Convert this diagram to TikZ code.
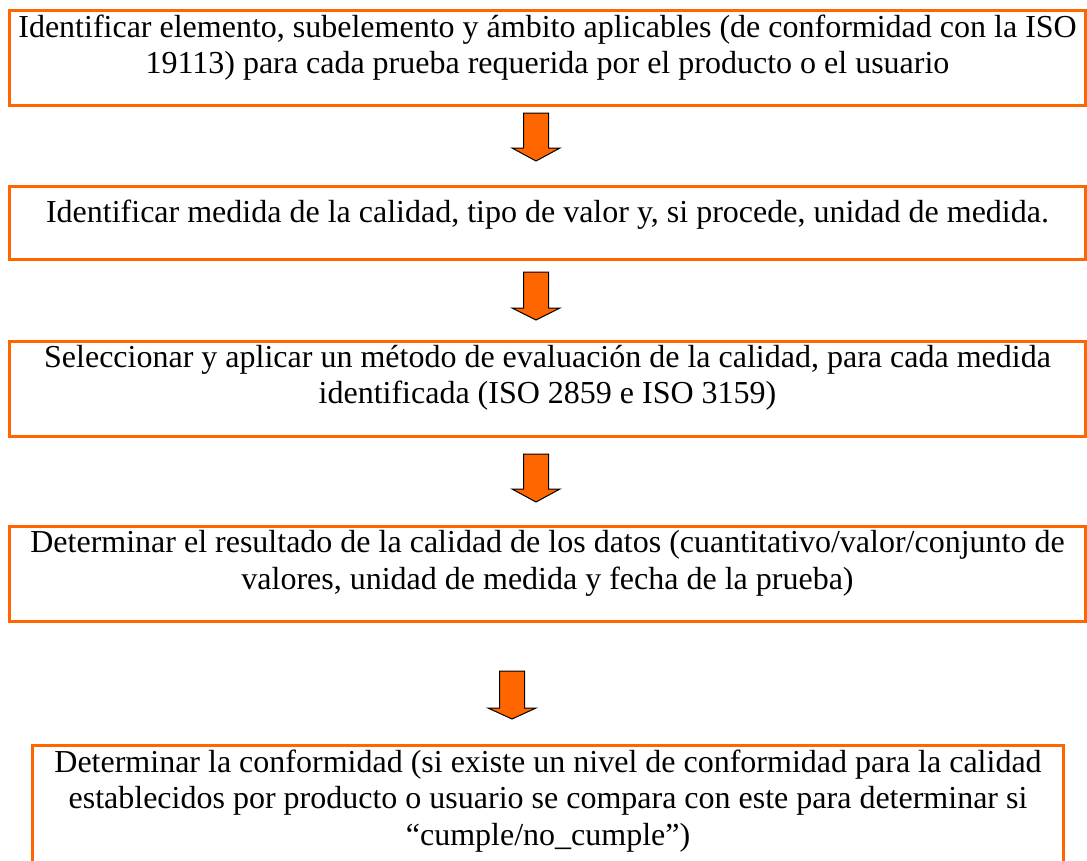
\documentclass[tikz,border=0pt]{standalone}
\usepackage{fontspec}
\setmainfont{Liberation Serif}
\definecolor{boxorange}{HTML}{FF6600}
\tikzset{
  box/.style={draw=boxorange, line width=3pt, inner sep=0pt, anchor=north west},
  txt/.style={anchor=north, inner sep=0pt, align=center, font=\fontsize{32}{36.5}\selectfont},
  arrowstyle/.style={fill=boxorange, draw=black, line width=1pt, line join=miter},
  blockarrow/.pic={\draw[arrowstyle] (-12.5,0) -- (12.5,0) -- (12.5,-#1) -- (24,-#1) -- (0,-48) -- (-24,-#1) -- (-12.5,-#1) -- cycle;},
  blockarrow/.default=35
}
\newcommand{\fstrut}{\rule{0pt}{30pt}}
\begin{document}
\begin{tikzpicture}[x=1pt,y=1pt]
\useasboundingbox (0,0) rectangle (1087,-860);
\node[box, minimum width=1076pt, minimum height=94.5pt] (b1) at (8,-9) {};
\node[box, minimum width=1076pt, minimum height=72.5pt] (b2) at (8,-185) {};
\node[box, minimum width=1076pt, minimum height=95pt] (b3) at (8,-340) {};
\node[box, minimum width=1076pt, minimum height=95pt] (b4) at (8,-524.5) {};
\draw[draw=boxorange, line width=3pt] (32.5,-880) -- (32.5,-745) coordinate (b5nw) -- (1063.5,-745) coordinate (b5ne) -- (1063.5,-880);
\node[txt] (t1) at ([yshift=2pt]b1.north) {\fstrut Identificar elemento, subelemento y ámbito aplicables (de conformidad con la ISO\\19113) para cada prueba requerida por el producto o el usuario};
\node[txt] (t2) at ([yshift=-7pt]b2.north) {\fstrut Identificar medida de la calidad, tipo de valor y, si procede, unidad de medida.};
\node[txt] (t3) at ([yshift=3pt]b3.north) {\fstrut Seleccionar y aplicar un método de evaluación de la calidad, para cada medida\\identificada (ISO 2859 e ISO 3159)};
\node[txt] (t4) at ([yshift=2pt]b4.north) {\fstrut Determinar el resultado de la calidad de los datos (cuantitativo/valor/conjunto de\\valores, unidad de medida y fecha de la prueba)};
\node[txt] (t5) at (548,-742) {\fstrut Determinar la conformidad (si existe un nivel de conformidad para la calidad\\establecidos por producto o usuario se compara con este para determinar si\\“cumple/no\_cumple”)};
\pic at (536,-113) {blockarrow=35};
\pic at (536,-272) {blockarrow=36};
\pic at (536,-454) {blockarrow=35};
\pic at (512,-671) {blockarrow=37};
\end{tikzpicture}
\end{document}
